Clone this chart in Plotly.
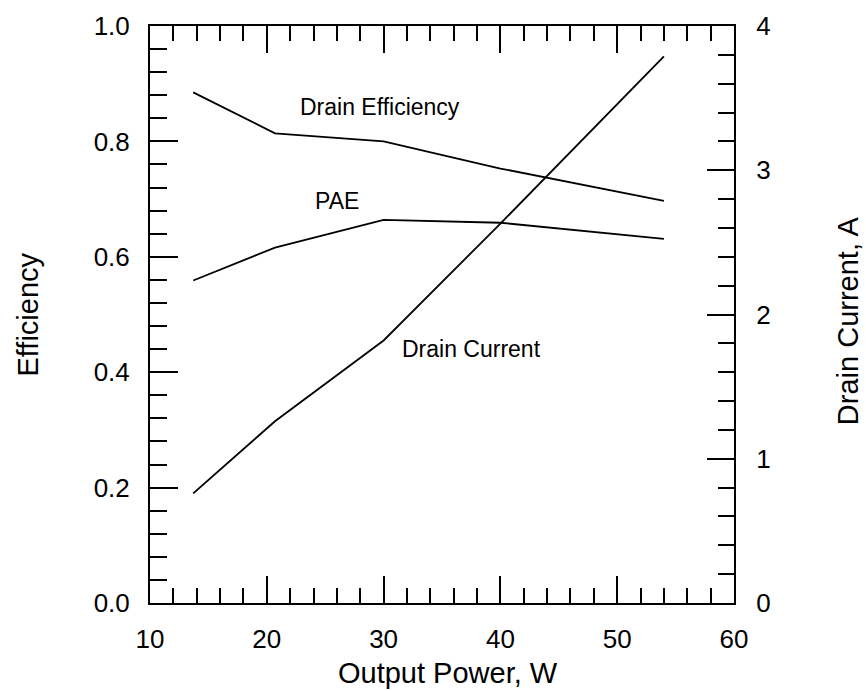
import plotly.graph_objects as go

# Data
output_power = [13.7, 20.7, 30.0, 40.0, 54.0]
drain_efficiency = [0.885, 0.814, 0.800, 0.753, 0.697]
pae = [0.559, 0.616, 0.664, 0.659, 0.631]
drain_current = [0.76, 1.26, 1.82, 2.63, 3.79]

x_ticks = [10, 20, 30, 40, 50, 60]
eff_ticks = [0.0, 0.2, 0.4, 0.6, 0.8, 1.0]
cur_ticks = [0, 1, 2, 3, 4]

FONT = "Liberation Sans, Arial, Helvetica, sans-serif"
line_style = dict(color="black", width=1.8)

fig = go.Figure()
fig.add_trace(go.Scatter(x=output_power, y=drain_efficiency, mode="lines",
                         line=line_style, name="Drain Efficiency"))
fig.add_trace(go.Scatter(x=output_power, y=pae, mode="lines",
                         line=line_style, name="PAE"))
fig.add_trace(go.Scatter(x=output_power, y=drain_current, mode="lines",
                         line=line_style, name="Drain Current", yaxis="y2"))

tickfont = dict(family=FONT, size=26, color="black")
titlefont = dict(family=FONT, size=29, color="black")
annfont = dict(family=FONT, size=23, color="black")

fig.update_layout(
    width=866, height=691,
    margin=dict(l=150, r=132, t=26, b=88),
    paper_bgcolor="white", plot_bgcolor="white",
    showlegend=False,
    xaxis=dict(
        range=[10, 60], tickvals=x_ticks, ticktext=[str(v) for v in x_ticks],
        ticks="inside", ticklen=27, tickwidth=2, tickcolor="black",
        showline=True, linewidth=2, linecolor="black", mirror="ticks",
        showgrid=False, zeroline=False, tickfont=tickfont,
        ticklabelstandoff=12,
        minor=dict(ticks="inside", ticklen=15, tickwidth=2, tickcolor="black",
                   dtick=2, showgrid=False),
    ),
    yaxis=dict(
        range=[0, 1], tickvals=eff_ticks, ticktext=[f"{v:.1f}" for v in eff_ticks],
        ticks="inside", ticklen=28, tickwidth=2, tickcolor="black",
        showline=True, linewidth=2, linecolor="black", mirror=False,
        showgrid=False, zeroline=False, tickfont=tickfont,
        ticklabelstandoff=13,
        minor=dict(ticks="inside", ticklen=17, tickwidth=2, tickcolor="black",
                   dtick=0.04, showgrid=False),
    ),
    yaxis2=dict(
        range=[0, 4], tickvals=cur_ticks, ticktext=[str(v) for v in cur_ticks],
        overlaying="y", side="right",
        ticks="inside", ticklen=27, tickwidth=2, tickcolor="black",
        showline=True, linewidth=2, linecolor="black",
        showgrid=False, zeroline=False, tickfont=tickfont,
        ticklabelstandoff=15,
        minor=dict(ticks="inside", ticklen=16, tickwidth=2, tickcolor="black",
                   dtick=0.2, showgrid=False),
    ),
    annotations=[
        dict(text="Output Power, W", xref="paper", yref="paper", x=0.51, y=-0.122,
             showarrow=False, font=titlefont, xanchor="center", yanchor="middle"),
        dict(text="Efficiency", xref="paper", yref="paper", x=-0.2106, y=0.5,
             showarrow=False, font=titlefont, textangle=-90,
             xanchor="center", yanchor="middle"),
        dict(text="Drain Current, A", xref="paper", yref="paper", x=1.195, y=0.49,
             showarrow=False, font=titlefont, textangle=-90,
             xanchor="center", yanchor="middle"),
        dict(text="Drain Efficiency", x=29.7, y=0.86, xref="x", yref="y",
             showarrow=False, font=annfont),
        dict(text="PAE", x=26.0, y=0.697, xref="x", yref="y",
             showarrow=False, font=annfont),
        dict(text="Drain Current", x=37.5, y=0.44, xref="x", yref="y",
             showarrow=False, font=annfont),
    ],
)

fig.write_html("out.html")
